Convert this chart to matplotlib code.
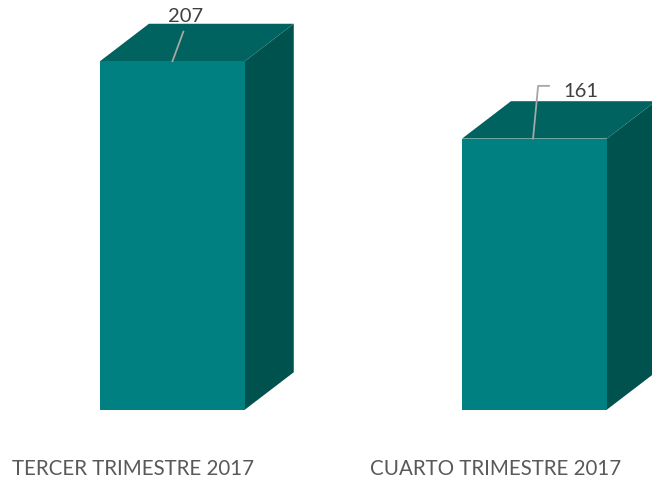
import matplotlib
matplotlib.use('Agg')
import matplotlib.pyplot as plt
from matplotlib.patches import Polygon

# Data
categories = ['TERCER TRIMESTRE 2017', 'CUARTO TRIMESTRE 2017']
values = [207, 161]

FRONT = '#008080'
TOP = '#00635F'
SIDE = '#00524F'

fig = plt.figure(figsize=(6.52, 4.81), dpi=100)
ax = fig.add_axes([0, 0, 1, 1])
ax.set_xlim(-0.4765, 1.3246)
ax.set_ylim(-41.8, 243.9)
ax.axis('off')

bar_w = 0.40
# depth of the 3d box in data units (about 49 px right, 37 px up)
dx = 0.135
dy = 22.2

for i, v in enumerate(values):
    x0 = i - bar_w / 2
    x1 = i + bar_w / 2
    front = [(x0, 0), (x1, 0), (x1, v), (x0, v)]
    top = [(x0, v), (x1, v), (x1 + dx, v + dy), (x0 + dx, v + dy)]
    side = [(x1, 0), (x1 + dx, dy), (x1 + dx, v + dy), (x1, v)]
    ax.add_patch(Polygon(side, closed=True, facecolor=SIDE, edgecolor='none'))
    ax.add_patch(Polygon(top, closed=True, facecolor=TOP, edgecolor='none'))
    ax.add_patch(Polygon(front, closed=True, facecolor=FRONT, edgecolor='none'))

    # category label under the box
    ax.text(i - 0.108, -38.3, categories[i], ha='center', va='baseline',
            fontsize=14.8, color='#595959', family='Lato')

# value labels with leader lines
ax.plot([0.0, 0.03], [values[0], values[0] + 17.5], color='#A6A6A6', lw=1.3)
ax.text(0.036, 231.0, str(values[0]), ha='center', va='baseline',
        fontsize=14.5, color='#404040', family='Lato')

ax.plot([0.996, 1.01, 1.04], [values[1], values[1] + 31.3, values[1] + 31.3],
        color='#A6A6A6', lw=1.3)
ax.text(1.081, 186.5, str(values[1]), ha='left', va='baseline',
        fontsize=14.5, color='#404040', family='Lato')

fig.savefig('out.png', dpi=100)
